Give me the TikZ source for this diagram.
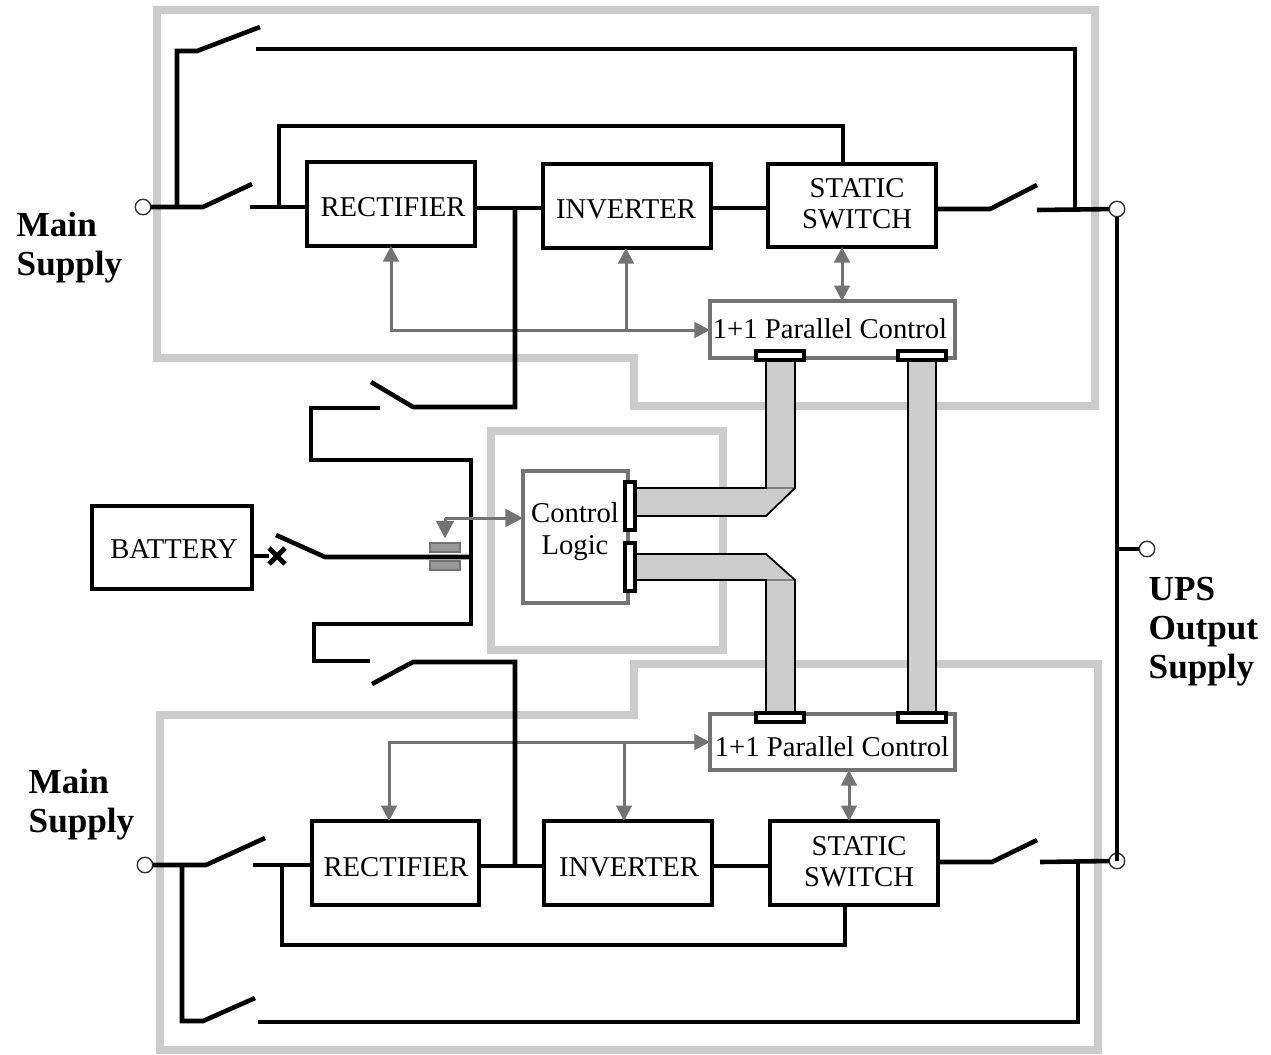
\documentclass[tikz,border=0pt]{standalone}
\usepackage{fontspec}
\setmainfont{Liberation Serif}
\usetikzlibrary{arrows.meta,shapes.misc}
\tikzset{
  frame/.style={draw=black!20,line width=2.1pt},
  wire/.style={draw=black,line width=1.3pt},
  sig/.style={draw=black!55,line width=0.85pt,{Triangle[length=4.4pt,width=4.4pt]}-{Triangle[length=4.4pt,width=4.4pt]}},
  sigto/.style={draw=black!55,line width=0.85pt,-{Triangle[length=4.4pt,width=4.4pt]}},
  sense/.style={draw=black!55,line width=0.85pt,-{Triangle[length=5pt,width=5pt]}},
  unit/.style={draw=black,line width=1.3pt,fill=white,inner sep=0pt,outer sep=0pt,align=center},
  ctrl/.style={draw=black!55,line width=1.2pt,fill=white,inner sep=0pt,outer sep=0pt,align=center},
  label/.style={inner sep=0pt,align=center,font=\fontsize{8.15}{8.9}\selectfont},
  term/.style={circle,draw=black!80,line width=0.4pt,minimum size=4.4pt,inner sep=0pt,outer sep=0pt},
  plug/.style={draw=black,line width=1.3pt,fill=white},
  ribbon/.style={draw=black,line width=0.5pt,fill=black!20},
  tag/.style={align=left,anchor=north west,inner sep=0pt,font=\fontsize{10}{11.1}\selectfont\bfseries}
}
\begin{document}
\begin{tikzpicture}[x=0.01cm,y=-0.01cm]
  \useasboundingbox (0,0) rectangle (1271,1054);
  % housings
  \draw[frame] (157,10) -- (1095,10) -- (1095,406) -- (634,406) -- (634,358) -- (157,358) -- cycle;
  \draw[frame] (160,715) -- (634,715) -- (634,664) -- (1098,664) -- (1098,1050) -- (160,1050) -- cycle;
  \draw[frame] (491,431) -- (723,431) -- (723,650) -- (491,650) -- cycle;
  % upper unit
  \node[unit,minimum width=1.68cm,minimum height=0.84cm] (rect1) at (391,204) {};
  \node[unit,minimum width=1.68cm,minimum height=0.84cm] (inv1) at (627,206) {};
  \node[unit,minimum width=1.68cm,minimum height=0.83cm] (stat1) at (852,205.5) {};
  \node[ctrl,minimum width=2.45cm,minimum height=0.57cm] (par1) at (832.5,329.5) {};
  \node[label] (rect1txt) at (393,207) {RECTIFIER};
  \node[label] (inv1txt) at (626,209) {INVERTER};
  \node[label] (stat1txt) at (857,204) {STATIC\\SWITCH};
  \node[label] (par1txt) at (830,329) {1+1 Parallel Control};
  \node[term] (in1) at (143,207) {};
  \node[term] (out1) at (1117,209) {};
  \coordinate (sw1a) at (203,207);
  \coordinate (sw1b) at (252,184);
  \coordinate (sw1c) at (250,207);
  \coordinate (by1a) at (177,207);
  \coordinate (by1b) at (197,51);
  \coordinate (by1c) at (260,27);
  \coordinate (by1d) at (256,49);
  \coordinate (by1e) at (1075,210);
  \coordinate (st1a) at (279,207);
  \coordinate (tap1) at (515,208);
  \coordinate (sw2a) at (990,209);
  \coordinate (sw2b) at (1037,185);
  \coordinate (sw2c) at (1037,210);
  \coordinate (bus1) at (391,330);
  \coordinate (bus1b) at (626,330);
  \coordinate (bus1c) at (842,330);
  \draw[wire] (in1) -- (sw1a) -- (sw1b);
  \draw[wire] (sw1c) -- (rect1.west |- sw1c);
  \draw[wire] (by1a) -- (by1a |- by1b) -- (by1b) -- (by1c);
  \draw[wire] (by1d) -- (by1e |- by1d) -- (by1e);
  \draw[wire] (st1a) -- (279,126) -- (843,126) -- (843,164);
  \draw[wire] (rect1.east |- tap1) -- (inv1.west |- tap1);
  \draw[wire] (inv1.east |- tap1) -- (stat1.west |- tap1);
  \draw[wire] (stat1.east |- sw2a) -- (sw2a) -- (sw2b);
  \draw[wire] (sw2c) -- (out1);
  \draw[sig] (bus1 |- rect1.south) -- (bus1) -- (par1.west |- bus1);
  \draw[sigto] (bus1b) -- (bus1b |- inv1.south);
  \draw[sig] (bus1c |- stat1.south) -- (bus1c |- par1.north);
  % lower unit
  \node[unit,minimum width=1.67cm,minimum height=0.84cm] (rect2) at (395.5,863) {};
  \node[unit,minimum width=1.68cm,minimum height=0.84cm] (inv2) at (628,863) {};
  \node[unit,minimum width=1.68cm,minimum height=0.84cm] (stat2) at (854,863) {};
  \node[ctrl,minimum width=2.45cm,minimum height=0.56cm] (par2) at (832.5,742) {};
  \node[label] (rect2txt) at (396,867) {RECTIFIER};
  \node[label] (inv2txt) at (629,867) {INVERTER};
  \node[label] (stat2txt) at (859,862) {STATIC\\SWITCH};
  \node[label] (par2txt) at (832,747) {1+1 Parallel Control};
  \node[term] (in2) at (145,865) {};
  \node[term] (out2) at (1117,861) {};
  \coordinate (sw3a) at (206,865);
  \coordinate (sw3b) at (265,838);
  \coordinate (sw3c) at (253,865);
  \coordinate (by2a) at (182,865);
  \coordinate (by2b) at (203,1021);
  \coordinate (by2c) at (255,998);
  \coordinate (by2d) at (258,1022);
  \coordinate (by2e) at (1078,862);
  \coordinate (st2a) at (282,865);
  \coordinate (tap2) at (515,866);
  \coordinate (sw4a) at (992,862);
  \coordinate (sw4b) at (1037,840);
  \coordinate (sw4c) at (1040,862);
  \coordinate (bus2) at (389,742);
  \coordinate (bus2b) at (624,742);
  \coordinate (bus2c) at (849,742);
  \draw[wire] (in2) -- (sw3a) -- (sw3b);
  \draw[wire] (sw3c) -- (rect2.west |- sw3c);
  \draw[wire] (by2a) -- (by2a |- by2b) -- (by2b) -- (by2c);
  \draw[wire] (by2d) -- (by2e |- by2d) -- (by2e);
  \draw[wire] (st2a) -- (282,945) -- (845,945) -- (845,905);
  \draw[wire] (rect2.east |- tap2) -- (inv2.west |- tap2);
  \draw[wire] (inv2.east |- tap2) -- (stat2.west |- tap2);
  \draw[wire] (stat2.east |- sw4a) -- (sw4a) -- (sw4b);
  \draw[wire] (sw4c) -- (out2.west);
  \draw[sig] (bus2 |- rect2.north) -- (bus2) -- (par2.west |- bus2);
  \draw[sigto] (bus2b) -- (bus2b |- inv2.north);
  \draw[sig] (bus2c |- par2.south) -- (bus2c |- stat2.north);
  % output bus
  \node[term] (out3) at (1147,549) {};
  \draw[wire] (out1) -- (out2.center);
  \draw[wire] (out1 |- out3) -- (out3);
  \node[tag] (main1) at (16,211) {Main\\Supply};
  \node[tag] (main2) at (28,768) {Main\\Supply};
  \node[tag] (ups) at (1148,576) {UPS\\Output\\Supply};
  % battery and static bus
  \node[unit,minimum width=1.6cm,minimum height=0.83cm] (batt) at (172,547.5) {};
  \node[label] (batttxt) at (174,549) {BATTERY};
  \node[ctrl,minimum width=1.05cm,minimum height=1.32cm] (logic) at (575.5,537) {};
  \node[label,font=\fontsize{8.15}{9.1}\selectfont] (logictxt) at (575,532) {Control\\Logic};
  \coordinate (sw5a) at (325,557);
  \coordinate (sw5b) at (276,535);
  \coordinate (bus) at (471,557);
  \coordinate (sens) at (445,518);
  \node[cross out,draw=black,line width=1.4pt,inner sep=0pt,minimum size=0.11cm] (fuse) at (277,556) {};
  \draw[wire] (batt.east |- fuse) -- (fuse);
  \draw[wire] (sw5b) -- (sw5a) -- (bus);
  \draw[wire] (tap1) -- (515,407) -- (413,407) -- (371,382);
  \draw[wire] (380,408) -- (311,408) -- (311,460) -- (471,460) -- (471,624) -- (314,624) -- (314,661) -- (370,661);
  \draw[wire] (372,684) -- (413,662) -- (515,662) -- (tap2);
  \node[draw=black!55,fill=black!40,line width=0.6pt,minimum width=0.3cm,minimum height=0.09cm,inner sep=0pt] (cap1) at (445,547.5) {};
  \node[draw=black!55,fill=black!40,line width=0.6pt,minimum width=0.3cm,minimum height=0.09cm,inner sep=0pt] (cap2) at (445,565.5) {};
  \draw[sense,shorten >=1pt] (sens) -- (cap1.north);
  \draw[sense] (sens) -- (logic.west |- sens);
  % ribbons
  \fill[black!20] (766,360) -- (795,360) -- (795,488) -- (766,516) -- (636,516) -- (636,488) -- (766,488) -- cycle;
  \draw[black!50,line width=0.3pt] (766,488) -- (795,488);
  \draw[ribbon,fill=none] (766,360) -- (766,488) -- (636,488);
  \draw[ribbon,fill=none] (636,516) -- (766,516) -- (795,488) -- (795,360);
  \fill[black!20] (636,554) -- (766,554) -- (795,580) -- (795,713) -- (766,713) -- (766,580) -- (636,580) -- cycle;
  \draw[black!50,line width=0.3pt] (766,580) -- (795,580);
  \draw[ribbon,fill=none] (636,554) -- (766,554) -- (795,580) -- (795,713);
  \draw[ribbon,fill=none] (766,713) -- (766,580) -- (636,580);
  \draw[ribbon] (908,358) rectangle (936,713);
  \draw[plug] (756,351) rectangle (804,360);
  \draw[plug] (898,351) rectangle (946,360);
  \draw[plug] (756,713) rectangle (804,722);
  \draw[plug] (898,713) rectangle (946,722);
  \draw[plug] (625,482) rectangle (635,530);
  \draw[plug] (625,543) rectangle (635,591);
\end{tikzpicture}
\end{document}
